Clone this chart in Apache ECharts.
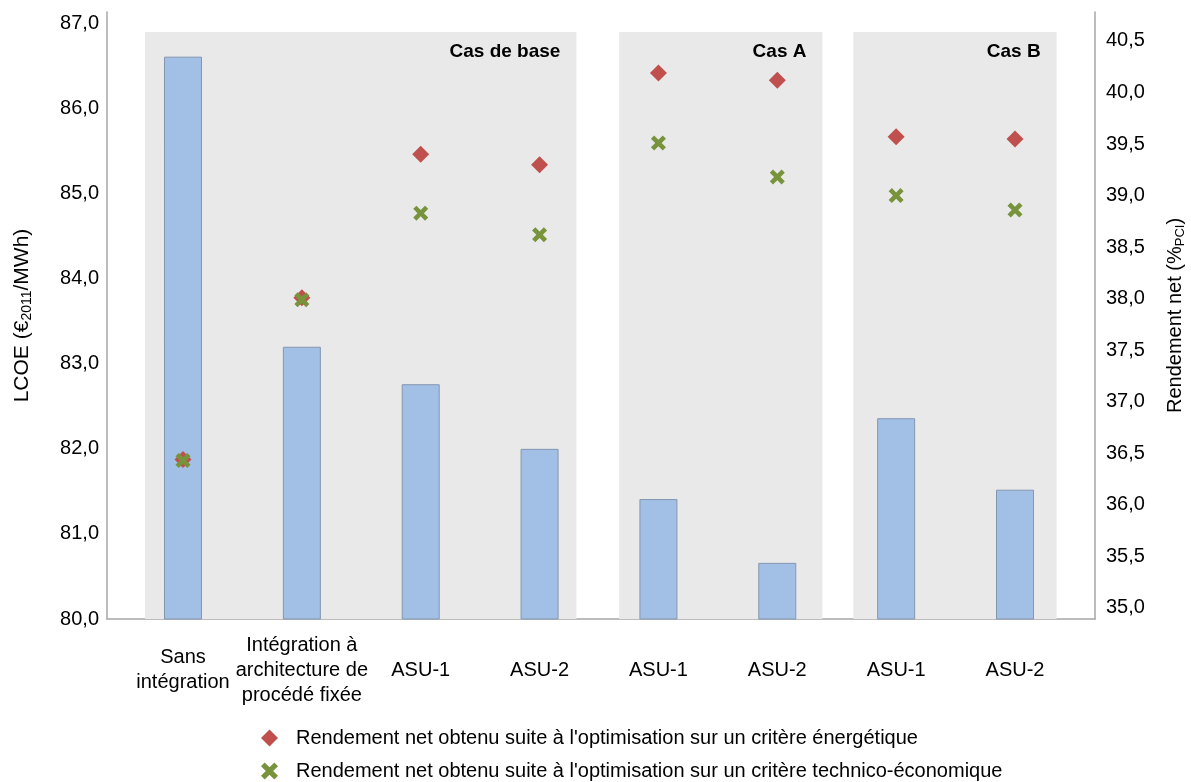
<!DOCTYPE html>
<html>
<head>
<meta charset="utf-8">
<script src="https://cdn.jsdelivr.net/npm/echarts@6/dist/echarts.min.js"></script>
<style>
  html, body { margin: 0; padding: 0; background: #fff; overflow: hidden; }
  #box01 { width: 1191px; height: 782px; }
</style>
</head>
<body>
<div id="box01"></div>
<script>
// données
var categories = ['Sans\nintégration', 'Intégration à\narchitecture de\nprocédé fixée', 'ASU-1', 'ASU-2', 'ASU-1', 'ASU-2', 'ASU-1', 'ASU-2'];
var lcoe = [86.61, 83.20, 82.76, 82.00, 81.41, 80.66, 82.36, 81.52];
var rendEnergetique = [36.44, 38.01, 39.40, 39.30, 40.19, 40.12, 39.57, 39.55];
var rendTechnico = [36.43, 37.99, 38.83, 38.62, 39.51, 39.18, 39.00, 38.86];
var leftTicks = [80, 81, 82, 83, 84, 85, 86, 87];
var rightTicks = [35, 35.5, 36, 36.5, 37, 37.5, 38, 38.5, 39, 39.5, 40, 40.5];
var casNames = ['Cas de base', 'Cas A', 'Cas B'];

var FONT = 'Liberation Sans, Arial, sans-serif';
var fmt = function (v) { return v.toFixed(1).replace('.', ','); };
var crossPath = 'path://M0,3 L3,0 L7,4 L11,0 L14,3 L10,7 L14,11 L11,14 L7,10 L3,14 L0,11 L4,7 Z';

// zones grises (en unités de catégorie)
var casRanges = [[-0.32, 3.31], [3.67, 5.38], [5.64, 7.35]];

var myChart = echarts.init(document.getElementById('box01'));

function pairs(arr) {
    return arr.map(function (v, i) { return [i, v]; });
}

var areas = casRanges.map(function (r, i) {
    return [
        { name: casNames[i], xAxis: r[0], yAxis: 86.90 },
        { xAxis: r[1], yAxis: 80 }
    ];
});

var option = {
    animation: false,
    textStyle: { fontFamily: FONT },
    grid: { left: 107, right: 96, top: 12, bottom: 163, outerBoundsMode: 'none', containLabel: false },
    legend: {
        orient: 'vertical',
        left: 256,
        top: 723,
        height: 70,
        itemWidth: 17,
        itemHeight: 17,
        itemGap: 13,
        textStyle: { fontSize: 20, color: '#000', fontFamily: FONT, padding: [0, 0, 0, 13] },
        data: [
            'Rendement net obtenu suite à l\'optimisation sur un critère énergétique',
            'Rendement net obtenu suite à l\'optimisation sur un critère technico-économique'
        ]
    },
    xAxis: {
        type: 'value',
        min: -0.6394,
        max: 7.673,
        splitLine: { show: false },
        axisTick: { show: false },
        axisLine: { onZero: false, lineStyle: { color: '#a6a6a6', width: 1.5 } },
        axisLabel: {
            customValues: [0, 1, 2, 3, 4, 5, 6, 7],
            formatter: function (v) { return categories[Math.round(v)]; },
            verticalAlign: 'middle',
            align: 'center',
            margin: 51,
            fontSize: 20,
            lineHeight: 25,
            color: '#000',
            fontFamily: FONT
        }
    },
    yAxis: [
        {
            type: 'value',
            position: 'left',
            min: 80,
            max: 87.135,
            splitLine: { show: false },
            axisTick: { show: false },
            axisLine: { show: true, onZero: false, lineStyle: { color: '#a6a6a6', width: 1.5 } },
            axisLabel: {
                customValues: leftTicks,
                formatter: fmt,
                margin: 8,
                fontSize: 20,
                color: '#000',
                fontFamily: FONT
            },
            name: '{t|LCOE (€}{s|2011}{t|/MWh)}',
            nameLocation: 'middle',
            nameRotate: 90,
            nameGap: 73,
            nameTextStyle: {
                rich: {
                    t: { fontSize: 21, color: '#000', fontFamily: FONT },
                    s: { fontSize: 14, color: '#000', fontFamily: FONT, padding: [10, 0, 0, 0] }
                }
            }
        },
        {
            type: 'value',
            position: 'right',
            min: 34.893,
            max: 40.781,
            splitLine: { show: false },
            axisTick: { show: false },
            axisLine: { show: true, onZero: false, lineStyle: { color: '#a6a6a6', width: 1.5 } },
            axisLabel: {
                customValues: rightTicks,
                formatter: fmt,
                margin: 11,
                fontSize: 20,
                color: '#000',
                fontFamily: FONT
            },
            name: '{t|Rendement net (%}{s|PCI}{t|)}',
            nameLocation: 'middle',
            nameRotate: 90,
            nameGap: 69,
            nameTextStyle: {
                rich: {
                    t: { fontSize: 20, color: '#000', fontFamily: FONT },
                    s: { fontSize: 13, color: '#000', fontFamily: FONT, padding: [10, 0, 0, 0] }
                }
            }
        }
    ],
    series: [
        {
            name: 'LCOE',
            type: 'bar',
            yAxisIndex: 0,
            barWidth: 38,
            data: pairs(lcoe),
            itemStyle: { color: '#a2bfe6', borderColor: '#8497b0', borderWidth: 1 },
            markArea: {
                silent: true,
                itemStyle: { color: '#e9e9e9' },
                label: {
                    show: true,
                    position: 'insideTopRight',
                    offset: [-11, 5],
                    fontWeight: 'bold',
                    fontSize: 19,
                    color: '#000',
                    fontFamily: FONT
                },
                data: areas
            },
            z: 2
        },
        {
            name: 'Rendement net obtenu suite à l\'optimisation sur un critère énergétique',
            type: 'scatter',
            yAxisIndex: 1,
            symbol: 'diamond',
            symbolSize: 17,
            itemStyle: { color: '#c0504d', opacity: 1 },
            data: pairs(rendEnergetique),
            z: 3
        },
        {
            name: 'Rendement net obtenu suite à l\'optimisation sur un critère technico-économique',
            type: 'scatter',
            yAxisIndex: 1,
            symbol: crossPath,
            symbolSize: 15,
            itemStyle: { color: '#77933c', opacity: 1 },
            data: pairs(rendTechnico),
            z: 4
        }
    ]
};

myChart.setOption(option);
</script>
</body>
</html>
